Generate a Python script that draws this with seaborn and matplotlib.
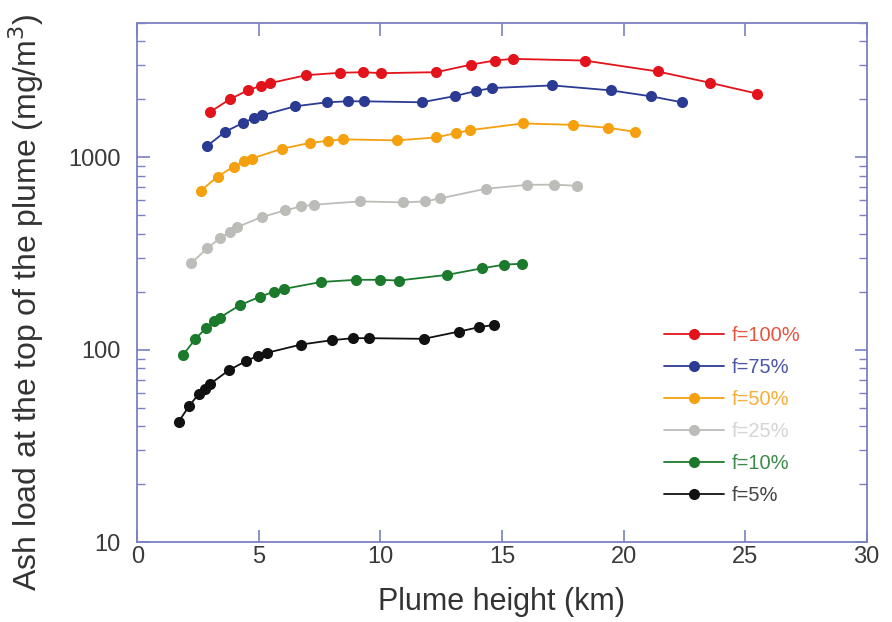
import matplotlib
matplotlib.use("Agg")
import matplotlib.pyplot as plt
import matplotlib.ticker as mticker
import numpy as np
import pandas as pd
import seaborn as sns

# ---- data ----
series_labels = ["f=100%", "f=75%", "f=50%", "f=25%", "f=10%", "f=5%"]

x_f100 = [3.00, 3.80, 4.54, 5.09, 5.47, 6.95, 8.32, 9.29, 10.03, 12.30, 13.74, 14.70, 15.45, 18.40, 21.41, 23.55, 25.50]
y_f100 = [1720, 2000, 2226, 2353, 2428, 2670, 2746, 2767, 2734, 2767, 3031, 3180, 3245, 3180, 2790, 2438, 2140]

x_f75 = [2.87, 3.61, 4.35, 4.79, 5.14, 6.49, 7.81, 8.65, 9.31, 11.70, 13.07, 13.92, 14.58, 17.07, 19.47, 21.14, 22.40]
y_f75 = [1144, 1356, 1510, 1596, 1653, 1840, 1930, 1953, 1953, 1930, 2080, 2208, 2288, 2362, 2226, 2072, 1930]

x_f50 = [2.62, 3.31, 3.96, 4.40, 4.70, 5.95, 7.12, 7.86, 8.46, 10.69, 12.30, 13.10, 13.70, 15.87, 17.93, 19.38, 20.47]
y_f50 = [672, 794, 894, 953, 984, 1107, 1189, 1218, 1239, 1224, 1268, 1335, 1384, 1499, 1473, 1422, 1356]

x_f25 = [2.22, 2.87, 3.42, 3.80, 4.09, 5.13, 6.09, 6.74, 7.26, 9.15, 10.93, 11.85, 12.44, 14.33, 16.04, 17.16, 18.07]
y_f25 = [282, 336, 382, 408, 433, 490, 530, 556, 567, 590, 583, 590, 611, 686, 719, 721, 711]

x_f10 = [1.87, 2.39, 2.84, 3.14, 3.39, 4.24, 5.06, 5.61, 6.02, 7.56, 9.01, 9.97, 10.75, 12.74, 14.18, 15.10, 15.83]
y_f10 = [93.5, 114, 130, 141, 147, 171, 189, 200, 207, 225, 231, 231, 229, 245, 265, 277, 280]

x_f5 = [1.70, 2.14, 2.52, 2.80, 3.00, 3.76, 4.49, 4.95, 5.34, 6.74, 8.01, 8.88, 9.52, 11.78, 13.22, 14.05, 14.66]
y_f5 = [42.3, 51.2, 58.8, 62.9, 66.5, 78.2, 87.7, 92.8, 96.5, 106.5, 112.2, 114.9, 114.9, 114.0, 124.3, 131.0, 134.6]

x_ticks = [0, 5, 10, 15, 20, 25, 30]
y_ticks = [10, 100, 1000]

# ---- styles ----
colors = ["#e3131b", "#2b3a92", "#f5a00f", "#bcbcb8", "#1b7a2c", "#111111"]
text_colors = ["#e5553f", "#4c57a6", "#f6ae3a", "#d4d4d2", "#3d8b4a", "#444444"]
spine_color = "#7b80c4"

xs = [x_f100, x_f75, x_f50, x_f25, x_f10, x_f5]
ys = [y_f100, y_f75, y_f50, y_f25, y_f10, y_f5]
frames = []
for lab, xv, yv in zip(series_labels, xs, ys):
    frames.append(pd.DataFrame({"height": xv, "load": yv, "series": lab}))
df = pd.concat(frames, ignore_index=True)

sns.set_style("white")
plt.rcParams["font.family"] = ["Liberation Sans", "DejaVu Sans"]

fig = plt.figure(figsize=(8.92, 6.22), dpi=100)
ax = fig.add_axes([0.1539, 0.1281, 0.8177, 0.8354])

sns.lineplot(data=df, x="height", y="load", hue="series", hue_order=series_labels,
             palette=colors, marker="o", markersize=8, markeredgewidth=0,
             linewidth=1.3, estimator=None, sort=False, ax=ax)

ax.set_yscale("log")
ax.set_xlim(0, 30)
ax.set_ylim(10, 5000)
ax.set_xticks(x_ticks)
ax.set_xticklabels([str(v) for v in x_ticks])
ax.yaxis.set_major_locator(mticker.FixedLocator(y_ticks))
ax.yaxis.set_major_formatter(mticker.FixedFormatter([str(v) for v in y_ticks]))
ax.yaxis.set_minor_locator(mticker.LogLocator(base=10, subs=np.arange(2, 10)))
ax.yaxis.set_minor_formatter(mticker.NullFormatter())
ax.xaxis.set_minor_locator(mticker.NullLocator())

for sp in ax.spines.values():
    sp.set_visible(True)
    sp.set_color(spine_color)
    sp.set_linewidth(1.3)

ax.tick_params(axis="both", which="major", direction="in", length=9, width=1.2,
               color=spine_color, labelsize=17, labelcolor="#3a3a3a")
ax.tick_params(axis="x", which="major", pad=3)
ax.tick_params(axis="y", which="major", pad=12)
ax.tick_params(axis="y", which="minor", direction="in", length=5.5, width=1.0,
               color=spine_color)
ax.tick_params(axis="x", top=True, bottom=True)
ax.tick_params(axis="y", which="both", left=True, right=True)

ax.set_xlabel("Plume height (km)", fontsize=22, color="#333333", labelpad=13)
ax.set_ylabel("Ash load at the top of the plume (mg/m$^3$)", fontsize=23,
              color="#333333")
ax.yaxis.set_label_coords(-0.125, 0.462)

leg = ax.legend(loc="upper left", bbox_to_anchor=(0.722, 0.416), frameon=False,
                fontsize=14.5, handlelength=3.0, handletextpad=0.35,
                labelspacing=0.64, borderaxespad=0, borderpad=0)
for txt, tc in zip(leg.get_texts(), text_colors):
    txt.set_color(tc)
for h in leg.legend_handles:
    h.set_linewidth(1.3)
    h.set_markersize(8)

fig.savefig("out.png", dpi=100)
